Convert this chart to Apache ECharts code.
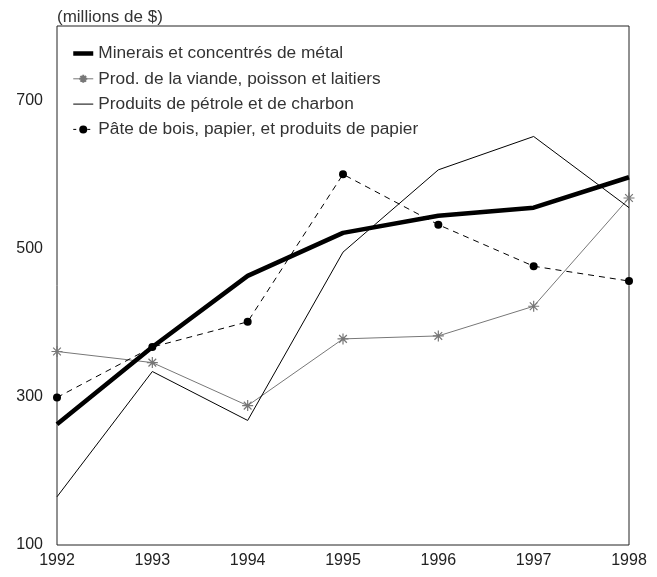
<!DOCTYPE html>
<html><head><meta charset="utf-8">
<script src="https://cdn.jsdelivr.net/npm/echarts@6/dist/echarts.min.js"></script>
<style>html,body{margin:0;padding:0;background:#fff}#c{width:657px;height:577px}</style>
</head><body><div id="c"></div>
<script>
const years = ['1992','1993','1994','1995','1996','1997','1998'];
const minerais = [263, 367, 463, 521, 544, 555, 596];
const viande = [361, 346, 288, 378, 382, 422, 568];
const petrole = [165, 334, 268, 495, 606, 651, 555];
const pate = [299, 367, 401, 600, 532, 476, 456];
const names = ['Minerais et concentrés de métal','Prod. de la viande, poisson et laitiers','Produits de pétrole et de charbon','Pâte de bois, papier, et produits de papier'];
const yLabels = [100, 300, 500, 700];
const font = 'Liberation Sans, Arial, sans-serif';
const star = 'path://M-1,0L1,0M-0.7,-0.7L0.7,0.7M-0.7,0.7L0.7,-0.7M0,-1L0,1';
const chart = echarts.init(document.getElementById('c'), null, {renderer:'canvas'});
chart.setOption({
  animation:false,
  title:{text:'(millions de $)', left:52, top:4, textStyle:{fontFamily:font, fontSize:17, fontWeight:'normal', color:'#333'}},
  grid:{left:57, right:28, top:26, bottom:32, show:true, borderColor:'#222', borderWidth:1},
  legend:{orient:'vertical', left:71, top:44.5, padding:0, itemWidth:20, itemHeight:10, itemGap:7.3,
    textStyle:{fontFamily:font, fontSize:17.3, lineHeight:18, color:'#333'},
    data:[
      {name:names[0], itemStyle:{opacity:0}, lineStyle:{width:4.5, color:'#000'}},
      {name:names[1], lineStyle:{width:1, color:'#777'}},
      {name:names[2], itemStyle:{opacity:0}, lineStyle:{width:1, color:'#000'}},
      {name:names[3], lineStyle:{width:1, color:'#000', type:[3,4]}}
    ]},
  xAxis:{type:'category', data:years, boundaryGap:false,
    axisLine:{show:false}, axisTick:{show:false}, splitLine:{show:false},
    axisLabel:{fontFamily:font, fontSize:16, color:'#222', margin:8}},
  yAxis:{type:'value', min:100, max:800, interval:100,
    axisLine:{show:false}, axisTick:{show:false}, splitLine:{show:false},
    axisLabel:{fontFamily:font, fontSize:16, color:'#222', margin:14,
      formatter:v=> yLabels.indexOf(v)>=0 ? String(v) : ''}},
  series:[
    {name:names[0], type:'line', data:minerais, showSymbol:false, symbol:'none',
      lineStyle:{color:'#000', width:4.5}, itemStyle:{color:'#000'}, z:4},
    {name:names[1], type:'line', data:viande, symbol:star, symbolSize:11,
      lineStyle:{color:'#777', width:1}, itemStyle:{color:'#777', borderColor:'#777', borderWidth:1.2}, z:2},
    {name:names[2], type:'line', data:petrole, symbol:'none',
      lineStyle:{color:'#000', width:1}, itemStyle:{color:'#000'}, z:3},
    {name:names[3], type:'line', data:pate, symbol:'circle', symbolSize:8,
      lineStyle:{color:'#000', width:1, type:[6,5]}, itemStyle:{color:'#000'}, z:3}
  ]
});
</script></body></html>
